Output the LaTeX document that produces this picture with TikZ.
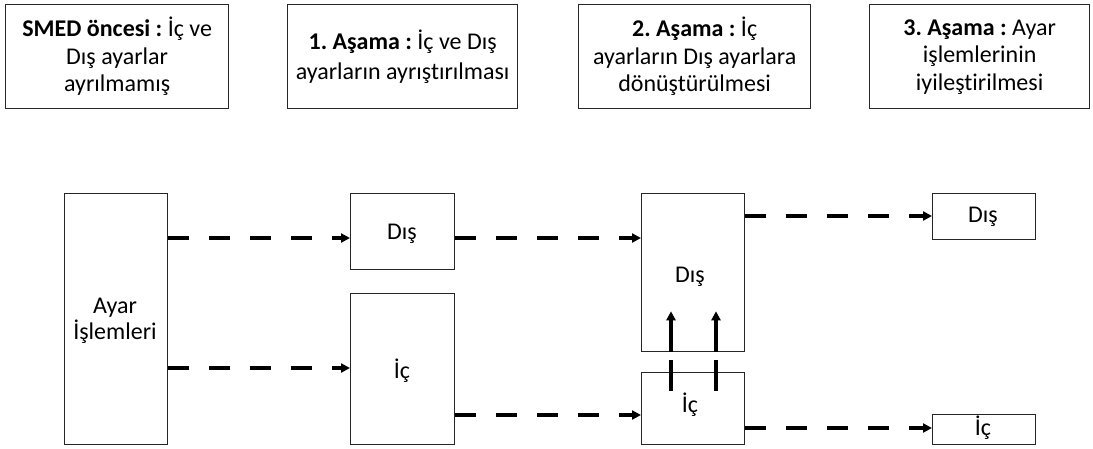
\documentclass[tikz,border=0pt]{standalone}
\usepackage{fontspec}
\setmainfont{Carlito}[Ligatures=NoCommon]
\frenchspacing
\usetikzlibrary{arrows.meta,calc}
\begin{document}
\begin{tikzpicture}[x=1pt,y=-1pt,
  topbox/.style={draw=black!85, line width=1.3pt, anchor=north west, inner sep=0pt, align=center,
    font=\fontsize{24}{27.5}\selectfont},
  flowbox/.style={draw=black!85, line width=1.3pt, anchor=north west, inner sep=0pt},
  lbl/.style={font=\fontsize{24}{26}\selectfont, align=center, inner sep=0pt},
  darr/.style={line width=3.5pt, dash pattern=on 21pt off 20pt, -{Triangle[length=9pt,width=9pt]}},
  varr/.style={line width=3.2pt, -{Triangle[length=9pt,width=9pt]}},
  bar/.style={line width=3.2pt}
]
\useasboundingbox (0,0) rectangle (1093,448);
% top boxes
\node[topbox, minimum width=223pt, minimum height=104pt] (t1) at (5,4)
  {\textbf{SMED öncesi :} İç ve\\Dış ayarlar\\ayrılmamış};
\node[topbox, minimum width=230pt, minimum height=104pt, font=\fontsize{24}{30}\selectfont] (t2) at (287,4)
  {\textbf{1. Aşama :} İç ve Dış\\ayarların ayrıştırılması};
\node[topbox, minimum width=232pt, minimum height=104pt] (t3) at (578,4)
  {\textbf{2. Aşama :} İç\\ayarların Dış ayarlara\\dönüştürülmesi};
\node[topbox, minimum width=220pt, minimum height=104pt] (t4) at (869,4)
  {\textbf{3. Aşama :} Ayar\\işlemlerinin\\iyileştirilmesi};
% flow boxes
\node[flowbox, minimum width=103pt, minimum height=251pt] (ayar) at (64,193) {};
\node[lbl] (ayart) at (115,321) {Ayar\\İşlemleri};
\node[flowbox, minimum width=104pt, minimum height=76pt] (dis1) at (350,193) {};
\node[lbl] (dis1t) at (402,234) {Dış};
\node[flowbox, minimum width=104pt, minimum height=151pt] (ic1) at (350,293) {};
\node[lbl] (ic1t) at (402,371) {İç};
\node[flowbox, minimum width=103pt, minimum height=158pt] (dis2) at (641,193) {};
\node[lbl] (dis2t) at (690,277) {Dış};
\node[flowbox, minimum width=103pt, minimum height=72pt] (ic2) at (641,372) {};
\node[lbl] (ic2t) at (690,405) {İç};
\node[flowbox, minimum width=103pt, minimum height=46pt] (dis3) at (932,193) {};
\node[lbl] (dis3t) at (983,217) {Dış};
\node[flowbox, minimum width=103pt, minimum height=30pt] (ic3) at (932,414) {};
\node[lbl] (ic3t) at (983,428) {İç};
% row coordinates
\coordinate (ya) at (0,238);
\coordinate (yb) at (0,368);
\coordinate (yc) at (0,415);
\coordinate (yd) at (0,216);
\coordinate (ye) at (0,428);
\coordinate (xa) at (671,0);
\coordinate (xb) at (716,0);
% dashed connectors
\draw[darr] (ayar.east |- ya) -- (dis1.west |- ya);
\draw[darr] (ayar.east |- yb) -- (ic1.west |- yb);
\draw[darr] (dis1.east |- ya) -- (dis2.west |- ya);
\draw[darr] (ic1.east |- yc) -- (ic2.west |- yc);
\draw[darr] (dis2.east |- yd) -- (dis3.west |- yd);
\draw[darr] (ic2.east |- ye) -- (ic3.west |- ye);
% conversion arrows
\draw[varr] (dis2.south -| xa) -- ++(0,-41);
\draw[varr] (dis2.south -| xb) -- ++(0,-41);
\draw[bar] ($(ic2.north -| xa)+(0,-12)$) -- ++(0,31);
\draw[bar] ($(ic2.north -| xb)+(0,-12)$) -- ++(0,31);
\end{tikzpicture}
\end{document}
